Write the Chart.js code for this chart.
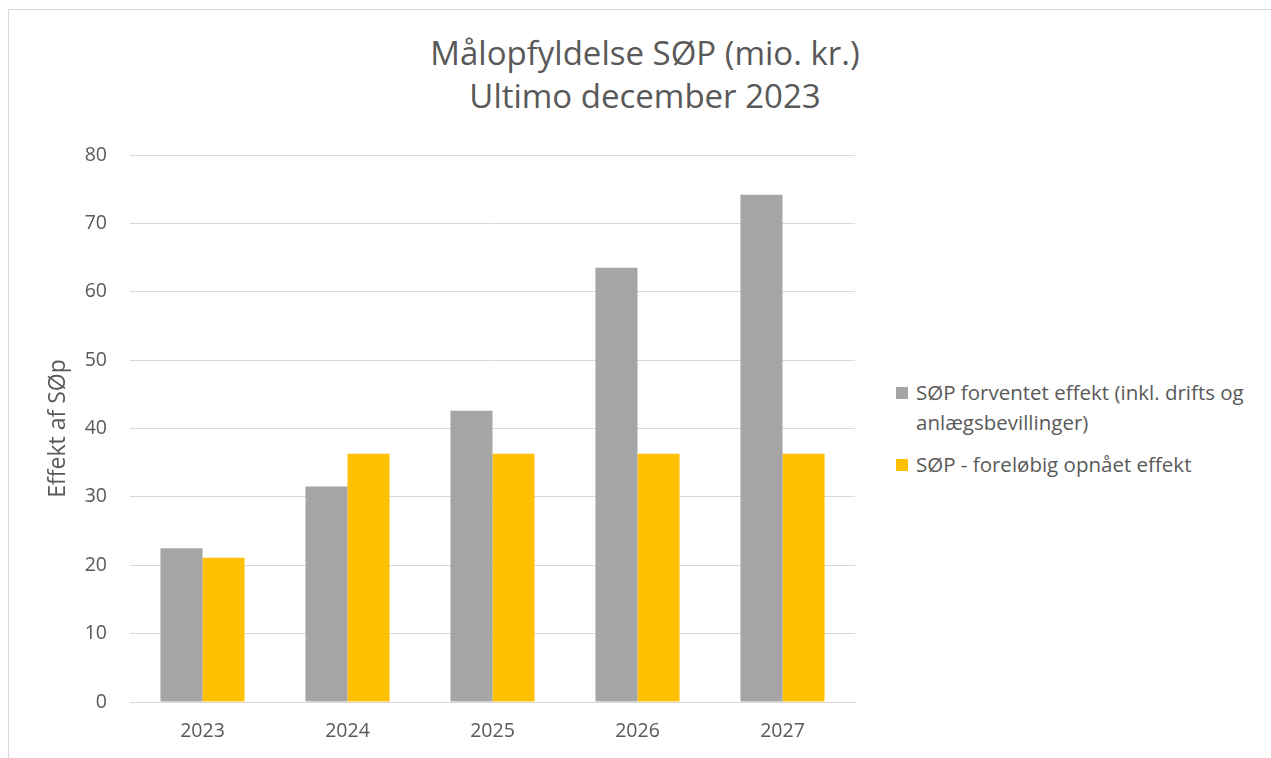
<!DOCTYPE html>
<html>
<head>
<meta charset="utf-8">
<script src="https://cdn.jsdelivr.net/npm/chart.js@4/dist/chart.umd.min.js"></script>
<style>
    body { margin: 0; background: #fff; font-family: "Open Sans", sans-serif; color: #595959; }
    #frame { position: absolute; left: 8px; top: 9px; width: 1300px; height: 800px; border: 1px solid #d9d9d9; }
    #wrap { position: absolute; left: 0; top: 0; width: 870px; height: 758px; }
    #title { position: absolute; left: 345px; width: 600px; top: 31px; text-align: center; font-size: 33px; line-height: 43px; }
    #legend { position: absolute; left: 896px; top: 377px; width: 365px; font-size: 20.5px; line-height: 30px; }
    .item { display: flex; align-items: flex-start; margin-bottom: 12px; }
    .box { width: 12px; height: 12px; margin-top: 10px; margin-right: 8px; flex: none; }
</style>
</head>
<body>
<div id="frame"></div>
<div id="title">Målopfyldelse SØP (mio. kr.)<br>Ultimo december 2023</div>
<div id="wrap"><canvas id="chart" width="870" height="758"></canvas></div>
<div id="legend"></div>
<script>
// --- Data ---
const years = ['2023', '2024', '2025', '2026', '2027'];
const expectedEffect = [22.5, 31.5, 42.6, 63.5, 74.2];
const achievedEffect = [21.1, 36.3, 36.3, 36.3, 36.3];
const seriesNames = [
    'SØP forventet effekt (inkl. drifts og anlægsbevillinger)',
    'SØP - foreløbig opnået effekt'
];
const seriesColors = ['#A5A5A5', '#FFC000'];

const textColor = '#595959';
const fontFamily = '"Open Sans", sans-serif';

const ctx = document.getElementById('chart').getContext('2d');

const chart = new Chart(ctx, {
    type: 'bar',
    data: {
        labels: years,
        datasets: [
            { label: seriesNames[0], data: expectedEffect, backgroundColor: seriesColors[0] },
            { label: seriesNames[1], data: achievedEffect, backgroundColor: seriesColors[1] }
        ]
    },
    options: {
        responsive: false,
        animation: false,
        layout: { padding: { left: 45, right: 15, top: 155, bottom: 10 } },
        datasets: { bar: { categoryPercentage: 0.58, barPercentage: 1.0 } },
        plugins: { legend: { display: false }, tooltip: { enabled: false }, title: { display: false } },
        scales: {
            x: {
                grid: { display: false, drawTicks: false },
                border: { color: '#d9d9d9', width: 1 },
                ticks: { color: textColor, padding: 18, font: { family: fontFamily, size: 19.5 } },
                afterFit: (s) => { s.height = 46; }
            },
            y: {
                min: 0,
                max: 80,
                ticks: { stepSize: 10, color: textColor, padding: 23, font: { family: fontFamily, size: 19.5 } },
                grid: { color: '#d9d9d9', lineWidth: 1, drawTicks: false },
                border: { display: false },
                title: {
                    display: true,
                    text: 'Effekt af SØp',
                    color: textColor,
                    font: { family: fontFamily, size: 23 },
                    padding: { top: 0, bottom: 0 }
                },
                afterFit: (s) => { s.width = 85; }
            }
        }
    }
});

// HTML legend (the built-in one cannot wrap long labels)
const legend = document.getElementById('legend');
chart.data.datasets.forEach((ds) => {
    const item = document.createElement('div');
    item.className = 'item';
    item.innerHTML = `<span class="box" style="background:${ds.backgroundColor}"></span><span>${ds.label}</span>`;
    legend.appendChild(item);
});
</script>
</body>
</html>
